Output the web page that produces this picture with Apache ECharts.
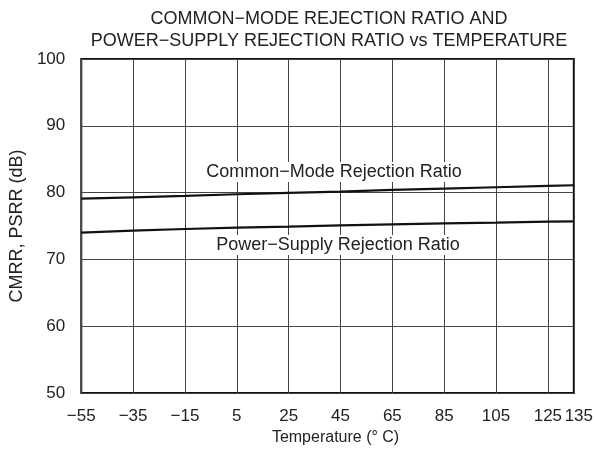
<!DOCTYPE html>
<html>
<head>
<meta charset="utf-8">
<script src="https://cdn.jsdelivr.net/npm/echarts@6/dist/echarts.min.js"></script>
<style>
  html, body { margin: 0; padding: 0; background: #fff; }
  #chart { width: 596px; height: 461px; }
</style>
</head>
<body>
<div id="chart"></div>
<script>
// Temperature sweep (°C) and the two rejection ratios (dB)
const temperatures = [-55, -35, -15, 5, 25, 45, 65, 85, 105, 125, 135];
const cmrr = [79.1, 79.3, 79.5, 79.75, 79.95, 80.15, 80.4, 80.6, 80.8, 81.0, 81.1];
const psrr = [74.0, 74.3, 74.55, 74.75, 74.9, 75.1, 75.25, 75.4, 75.5, 75.65, 75.7];
const xTicks = [-55, -35, -15, 5, 25, 45, 65, 85, 105, 125, 135];
const yTicks = [50, 60, 70, 80, 90, 100];

const FONT = 'Liberation Sans, Arial, sans-serif';
const minus = v => String(v).replace('-', '\u2212');
const xMin = xTicks[0];
const xMax = xTicks[xTicks.length - 1];
// the end label sits tight against its neighbour, so it gets its own axis layer
const mainTicks = xTicks.slice(0, -1);
const endTick = xTicks.slice(-1);

const labelStyle = { fontFamily: FONT, fontSize: 17, color: '#222', margin: 15 };

const chart = echarts.init(document.getElementById('chart'), null, { renderer: 'canvas' });

chart.setOption({
  animation: false,
  backgroundColor: '#fff',
  textStyle: { fontFamily: FONT },
  grid: {
    left: 79, top: 59, right: 22, bottom: 68,
    show: true, borderColor: '#111', borderWidth: 2, backgroundColor: 'transparent'
  },
  title: {
    text: 'COMMON\u2212MODE REJECTION RATIO AND\nPOWER\u2212SUPPLY REJECTION RATIO vs TEMPERATURE',
    left: 324, top: 3, textAlign: 'center',
    textStyle: { fontFamily: FONT, fontSize: 18, fontWeight: 'normal', color: '#222', lineHeight: 22 }
  },
  xAxis: [
    {
      type: 'value',
      min: xMin, max: xMax,
      axisLine: { show: false },
      axisTick: { show: false, customValues: xTicks },
      axisLabel: Object.assign({ customValues: mainTicks, formatter: minus, hideOverlap: false }, labelStyle),
      splitLine: { show: true, lineStyle: { color: '#444', width: 1 } },
      name: 'Temperature (\u00b0 C)',
      nameLocation: 'middle', nameGap: 36,
      nameTextStyle: { fontFamily: FONT, fontSize: 16, color: '#222', padding: [0, 0, 0, 16] }
    },
    {
      type: 'value',
      position: 'bottom',
      min: xMin, max: xMax,
      axisLine: { show: false },
      axisTick: { show: false, customValues: endTick },
      axisLabel: Object.assign({ customValues: endTick, formatter: minus, padding: [0, 0, 0, 10] }, labelStyle),
      splitLine: { show: false }
    }
  ],
  yAxis: {
    type: 'value',
    min: yTicks[0], max: yTicks[yTicks.length - 1], interval: 10,
    axisLine: { show: false },
    axisTick: { show: false },
    axisLabel: { fontFamily: FONT, fontSize: 17, color: '#222', margin: 16 },
    splitLine: { show: true, lineStyle: { color: '#444', width: 1 } },
    name: 'CMRR, PSRR (dB)',
    nameLocation: 'middle', nameGap: 52,
    nameTextStyle: { fontFamily: FONT, fontSize: 18, color: '#222' }
  },
  series: [
    {
      name: 'Common\u2212Mode Rejection Ratio',
      type: 'line',
      data: temperatures.map((t, i) => [t, cmrr[i]]),
      showSymbol: false,
      lineStyle: { color: '#111', width: 2.2 },
      z: 5
    },
    {
      name: 'Power\u2212Supply Rejection Ratio',
      type: 'line',
      data: temperatures.map((t, i) => [t, psrr[i]]),
      showSymbol: false,
      lineStyle: { color: '#111', width: 2.2 },
      z: 5
    }
  ],
  graphic: [
    {
      type: 'text', x: 334, y: 172, z: 10,
      style: {
        text: 'Common\u2212Mode Rejection Ratio', fill: '#222',
        font: '18px ' + FONT, align: 'center', verticalAlign: 'middle',
        backgroundColor: '#fff', padding: [1, 2]
      }
    },
    {
      type: 'text', x: 338, y: 245, z: 10,
      style: {
        text: 'Power\u2212Supply Rejection Ratio', fill: '#222',
        font: '18px ' + FONT, align: 'center', verticalAlign: 'middle',
        backgroundColor: '#fff', padding: [1, 2]
      }
    }
  ]
});
</script>
</body>
</html>
